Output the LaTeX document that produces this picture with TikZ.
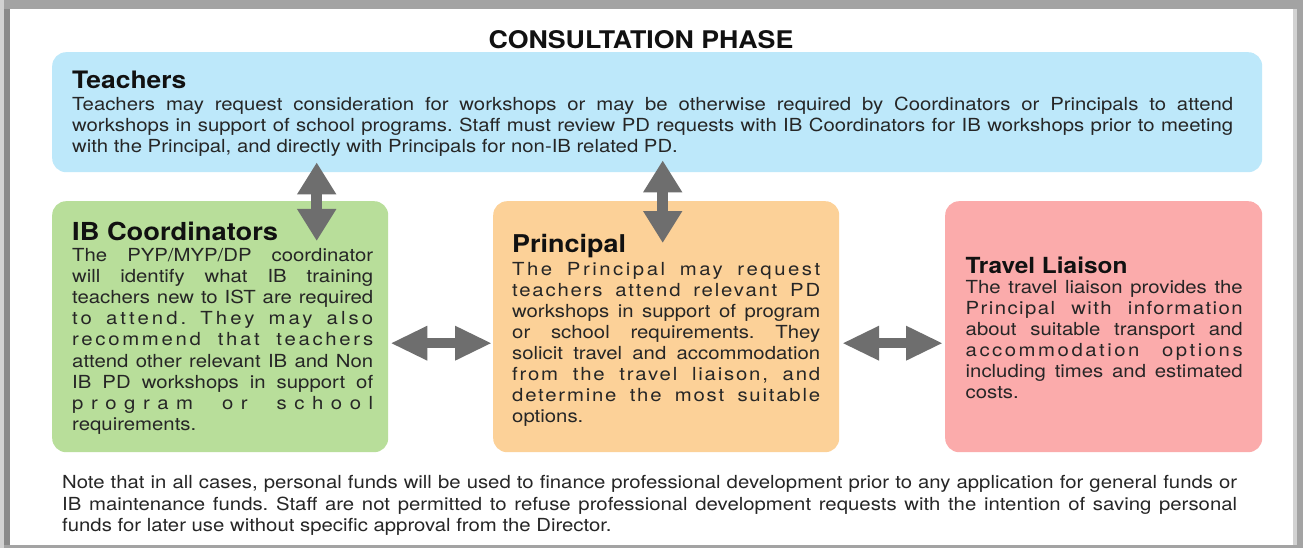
\documentclass[tikz,border=0pt]{standalone}
\usepackage{fontspec}
\usetikzlibrary{arrows.meta}
\newfontfamily\hvbody[FakeStretch=1.13]{TeX Gyre Heros}
\newfontfamily\hvtitle[FakeStretch=1.1]{TeX Gyre Heros}
\newcommand\ttlfont[1]{\hvtitle\bfseries\fontsize{#1}{#1}\selectfont}
\newcommand\txtfont[2]{\hvbody\fontsize{#1}{#2}\selectfont\frenchspacing\hyphenpenalty=10000\exhyphenpenalty=10000\tolerance=10000\pretolerance=-1}
\newcommand\ls[2]{{\addfontfeature{LetterSpace=#1}#2}}
\definecolor{bluebox}{HTML}{BDE8FA}
\definecolor{greenbox}{HTML}{B8DE9A}
\definecolor{orangebox}{HTML}{FCD198}
\definecolor{pinkbox}{HTML}{FBABAB}
\definecolor{arrowgray}{HTML}{6E6E6E}
\definecolor{framegray}{HTML}{A3A3A3}
\definecolor{framedark}{HTML}{8A8A8A}
\definecolor{framelight}{HTML}{D2D2D2}
\definecolor{bodytext}{HTML}{262626}
\definecolor{titletext}{HTML}{111111}
\begin{document}
\begin{tikzpicture}[x=1pt,y=-1pt,
  box/.style={rectangle, rounded corners=14pt, inner sep=0pt, anchor=north west},
  ttl/.style={anchor=base west, inner sep=0pt, text=titletext},
  body/.style={anchor=base west, inner sep=0pt, align=justify, text=bodytext},
  hz/.style={draw=arrowgray, line width=10pt, {Triangle[length=37pt,width=32pt]}-{Triangle[length=37pt,width=32pt]}},
  vt/.style={draw=arrowgray, line width=11pt, {Triangle[length=32pt,width=37pt]}-{Triangle[length=32pt,width=37pt]}}]
\useasboundingbox (0,0) rectangle (1303,548);
% frame
\fill[framegray] (0,0) rectangle (1303,548);
\fill[framelight] (0,0) rectangle (4,548);
\fill[framedark] (4,9) rectangle (10,545);
\fill[white] (10,9) rectangle (1293,545);
\fill[framelight] (1293,9) rectangle (1297,545);
% heading
\node[anchor=base, inner sep=0pt, text=titletext, font=\ttlfont{24.3}] (head) at (641,49) {CONSULTATION PHASE};
% boxes
\node[box, fill=bluebox, minimum width=1210pt, minimum height=120pt] (teach) at (52,52) {};
\node[box, fill=greenbox, minimum width=336pt, minimum height=251pt] (ibc) at (52,201) {};
\node[box, fill=orangebox, minimum width=346pt, minimum height=251pt] (prin) at (493,201) {};
\node[box, fill=pinkbox, minimum width=317pt, minimum height=251pt] (trav) at (945,201) {};
% teachers
\node[ttl, font=\ttlfont{24}] (teachT) at (72,89) {Teachers};
\node[body, text width=1161pt, font=\txtfont{18}{20.8}] (teachB) at (72,111) {Teachers may request consideration for workshops or may be otherwise required by Coordinators or Principals to attend\linebreak
workshops in support of school programs. Staff must review PD requests with IB Coordinators for IB workshops prior to meeting\linebreak
with the Principal, and directly with Principals for non-IB related PD.};
% IB coordinators
\node[ttl, font=\ttlfont{24.8}] (ibcT) at (72,240) {IB Coordinators};
\node[body, text width=301pt, font=\txtfont{18}{21.1}] (ibcB) at (72,261.5) {The PYP/MYP/DP coordinator\linebreak
will identify what IB training\linebreak
teachers new to IST are required\linebreak
\ls{17}{to attend. They may also}\linebreak
\ls{15}{recommend that teachers}\linebreak
attend other relevant IB and Non\linebreak
IB PD workshops in support of\linebreak
\ls{42}{program or school}\linebreak
requirements.};
% principal
\node[ttl, font=\ttlfont{24.5}] (prinT) at (512,252) {Principal};
\node[body, text width=308pt, font=\txtfont{18}{21}] (prinB) at (512,275) {\ls{14}{The Principal may request}\linebreak
\ls{10}{teachers attend relevant PD}\linebreak
workshops in support of program\linebreak
or school requirements. They\linebreak
solicit travel and accommodation\linebreak
\ls{10}{from the travel liaison, and}\linebreak
\ls{10}{determine the most suitable}\linebreak
options.};
% travel liaison
\node[ttl, font=\ttlfont{22.2}] (travT) at (965.5,273) {Travel Liaison};
\node[body, text width=277pt, font=\txtfont{18}{21}] (travB) at (965.5,293.5) {The travel liaison provides the\linebreak
\ls{8}{Principal with information}\linebreak
about suitable transport and\linebreak
\ls{14}{accommodation options}\linebreak
including times and estimated\linebreak
costs.};
% note
\node[body, text width=1175pt, font=\txtfont{18}{21.5}] (note) at (62,488.5) {Note that in all cases, personal funds will be used to finance professional development prior to any application for general funds or\linebreak
IB maintenance funds. Staff are not permitted to refuse professional development requests with the intention of saving personal\linebreak
funds for later use without specific approval from the Director.};
% connectors
\draw[vt, shorten <=-10pt, shorten >=-40pt] ([xshift=264.7pt]teach.south west) -- ([xshift=264.7pt]ibc.north west);
\draw[vt, shorten <=-12pt, shorten >=-42pt] ([xshift=610.7pt]teach.south west) -- ([xshift=169.7pt]prin.north west);
\draw[hz, shorten <=2pt, shorten >=1pt] ([yshift=-16.5pt]ibc.east) -- ([yshift=-16.5pt]prin.west);
\draw[hz, shorten <=2.7pt, shorten >=2pt] ([yshift=-16.5pt]prin.east) -- ([yshift=-16.5pt]trav.west);
\end{tikzpicture}
\end{document}
